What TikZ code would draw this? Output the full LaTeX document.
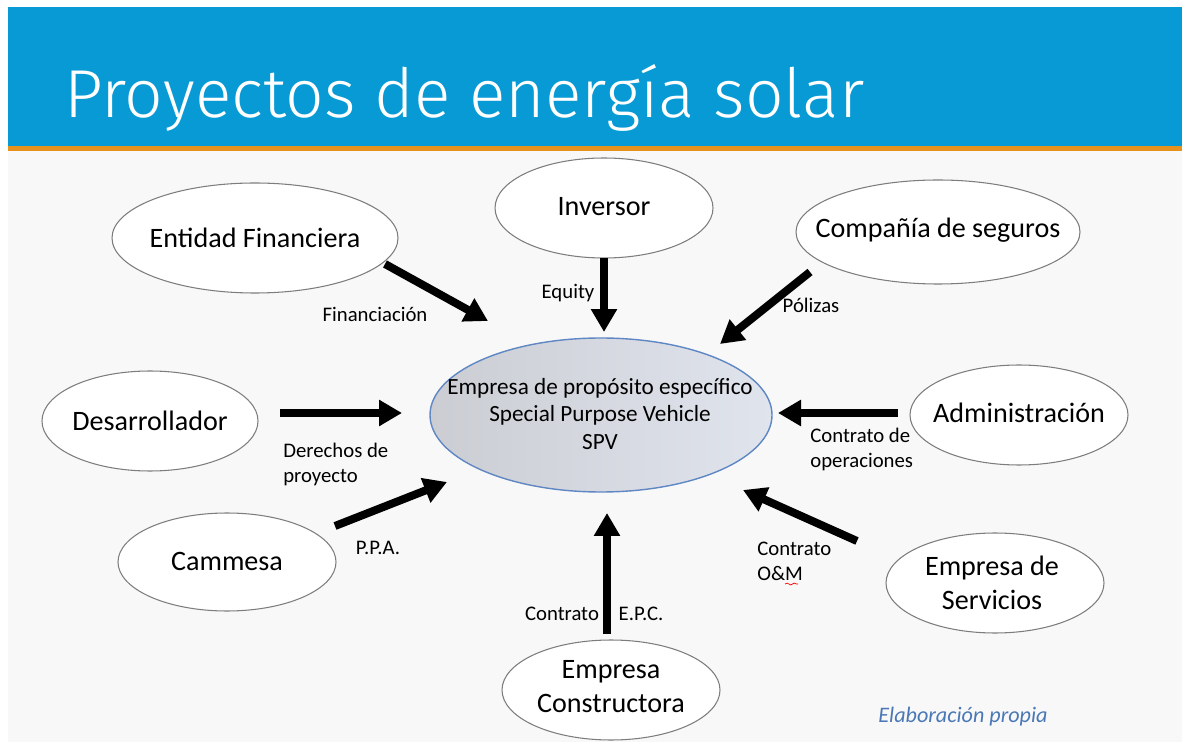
\documentclass[tikz,border=0pt]{standalone}
\usepackage{fontspec}
\setmainfont{Carlito}
\newfontfamily\titlefont{Fira Sans Light}
\usetikzlibrary{arrows.meta,decorations.pathmorphing}
\definecolor{cabecera}{RGB}{8,154,212}
\definecolor{franja}{RGB}{232,146,30}
\definecolor{fondo}{RGB}{248,248,248}
\definecolor{borde}{RGB}{125,125,125}
\definecolor{bordespv}{RGB}{95,135,195}
\definecolor{spvizq}{RGB}{203,205,211}
\definecolor{spvder}{RGB}{224,228,237}
\definecolor{fuente}{RGB}{74,120,181}
\tikzset{
  burbuja/.style={draw=borde, fill=white, line width=0.6pt},
  etiqueta/.style={font=\fontsize{16}{19.3}\selectfont, align=center},
  nota/.style={font=\fontsize{11.8}{14.2}\selectfont, align=left},
  flecha/.style={line width=0.16cm, -{Triangle[length=0.46cm,width=0.5cm]}},
}

\begin{document}
\begin{tikzpicture}[x=0.02cm, y=-0.02cm]
			%%%%% START %%%%%
			\useasboundingbox (0, 0) rectangle (1182, 742);
			\fill[white] (0, 0) rectangle (1182, 742);
			\fill[fondo] (8, 7) rectangle (1182, 742);
			\fill[cabecera] (8, 7) rectangle (1182, 146);
			\fill[franja] (8, 146) rectangle (1182, 151);
			\node[anchor=base west, text=white, inner sep=0, font=\titlefont\fontsize{38.6}{40}\selectfont] (titulo) at (64, 118) {Proyectos de energía solar};
			
			% burbujas
			\draw[burbuja] (255, 238) ellipse (143 and 55);
			\draw[burbuja] (604, 208) ellipse (109 and 50);
			\draw[burbuja] (938, 232) ellipse (142 and 52);
			\draw[burbuja] (150, 421) ellipse (108 and 50);
			\draw[burbuja] (1019, 415) ellipse (109 and 50);
			\draw[burbuja] (227, 562) ellipse (109 and 49);
			\draw[burbuja] (995, 583) ellipse (109 and 50);
			\draw[burbuja] (611, 690) ellipse (109 and 50);
			\draw[draw=bordespv, line width=0.8pt, left color=spvizq, right color=spvder] (601, 415) ellipse (171 and 77);
			
			\node[etiqueta] (entidad) at (255, 238) {Entidad Financiera};
			\node[etiqueta] (inversor) at (604, 207) {Inversor};
			\node[etiqueta] (seguros) at (938, 230) {Compañía de seguros};
			\node[etiqueta] (desarrollador) at (150, 421) {Desarrollador};
			\node[etiqueta] (admin) at (1019, 413) {Administración};
			\node[etiqueta] (cammesa) at (227, 561) {Cammesa};
			\node[etiqueta] (servicios) at (992, 583) {Empresa de\\Servicios};
			\node[etiqueta] (constructora) at (611, 687) {Empresa\\Constructora};
			\node[font=\fontsize{13.2}{15.9}\selectfont, align=center] (spv) at (600, 414) {Empresa de propósito específico\\Special Purpose Vehicle\\SPV};
			
			% flechas
			\coordinate (f1) at (385, 264);  \coordinate (f2) at (488, 321);
			\coordinate (e1) at (604, 258);  \coordinate (e2) at (604, 332);
			\coordinate (p1) at (810, 272);  \coordinate (p2) at (720, 344);
			\coordinate (d1) at (280, 413);  \coordinate (d2) at (402, 413);
			\coordinate (a1) at (898, 413);  \coordinate (a2) at (778, 413);
			\coordinate (c1) at (335, 526);  \coordinate (c2) at (447, 482);
			\coordinate (s1) at (857, 541);  \coordinate (s2) at (743, 490);
			\coordinate (k1) at (607, 634);  \coordinate (k2) at (607, 513);
			\draw[flecha] (f1) -- (f2);
			\draw[flecha] (e1) -- (e2);
			\draw[flecha] (p1) -- (p2);
			\draw[flecha] (d1) -- (d2);
			\draw[flecha] (a1) -- (a2);
			\draw[flecha] (c1) -- (c2);
			\draw[flecha] (s1) -- (s2);
			\draw[flecha] (k1) -- (k2);
			
			\node[nota] (financiacion) at (375, 314) {Financiación};
			\node[nota] (equity) at (568, 293) {Equity};
			\node[nota] (polizas) at (811, 305) {Pólizas};
			\node[nota, anchor=west, inner sep=0] (derechos) at (283, 464) {Derechos de\\proyecto};
			\node[nota, anchor=west, inner sep=0] (operaciones) at (810, 449) {Contrato de\\operaciones};
			\node[nota] (ppa) at (378, 548) {P.P.A.};
			\node[nota, anchor=west, inner sep=0] (om) at (757, 561) {Contrato\\O\&M};
			\draw[red, decorate, decoration={snake, amplitude=0.5pt, segment length=4pt}] (785, 584) -- (798, 584);
			\node[nota] (contrato) at (562, 614) {Contrato};
			\node[nota] (epc) at (641, 614) {E.P.C.};
			
			\node[text=fuente, font=\itshape\fontsize{12.6}{14}\selectfont] (fuente) at (963, 717) {Elaboración propia};
			%%%%% END %%%%%
\end{tikzpicture}
\end{document}
